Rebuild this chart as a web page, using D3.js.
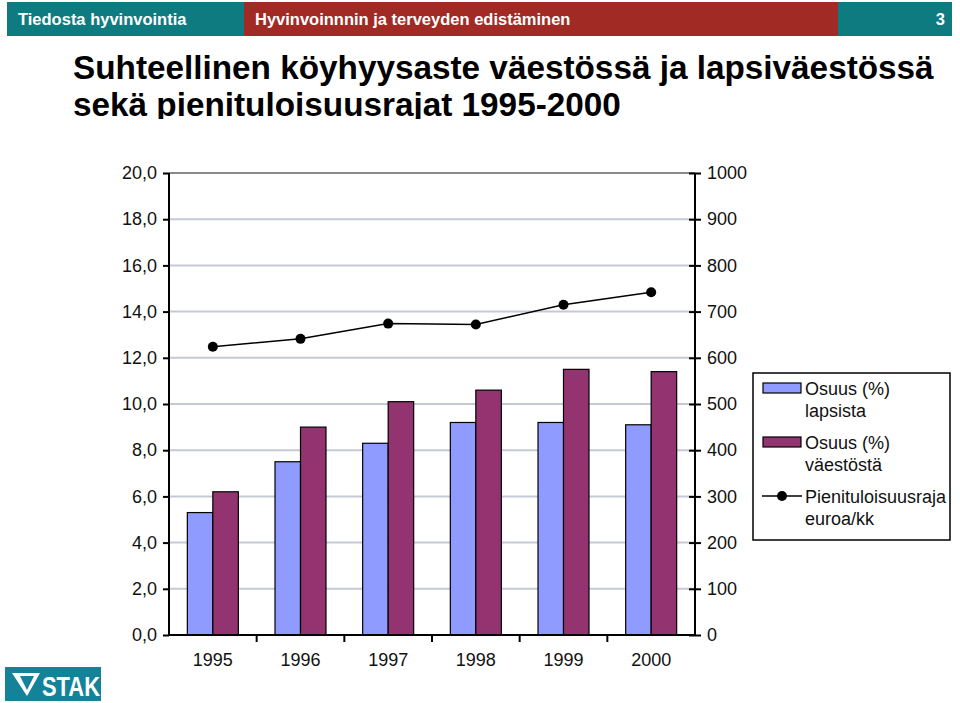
<!DOCTYPE html>
<html><head><meta charset="utf-8">
<script src="https://cdn.jsdelivr.net/npm/d3@7"></script>
<style>body{margin:0;background:#fff}svg{display:block}</style>
</head><body>
<svg id="c" width="960" height="703"></svg>
<script>
const years = ["1995","1996","1997","1998","1999","2000"];
const lapsista = [5.3, 7.5, 8.3, 9.2, 9.2, 9.1];
const vaestosta = [6.2, 9.0, 10.1, 10.6, 11.5, 11.4];
const raja = [624, 641, 674, 672, 715, 742];
const leftTicks = [0,2,4,6,8,10,12,14,16,18,20];
const rightTicks = [0,100,200,300,400,500,600,700,800,900,1000];
const seriesNames = ["Osuus (%)|lapsista","Osuus (%)|väestöstä","Pienituloisuusraja|euroa/kk"];

const svg = d3.select("#c");
const font = "Arial, 'Liberation Sans', sans-serif";

// Header bar
svg.append("rect").attr("x",7).attr("y",2).attr("width",237).attr("height",34).attr("fill","#0e7b80");
svg.append("rect").attr("x",244).attr("y",2).attr("width",594).attr("height",34).attr("fill","#a12b24");
svg.append("rect").attr("x",838).attr("y",2).attr("width",114).attr("height",34).attr("fill","#0e7b80");
svg.append("text").attr("x",18).attr("y",25).attr("fill","#fff").attr("font-family",font).attr("font-weight","bold").attr("font-size",16.5).text("Tiedosta hyvinvointia");
svg.append("text").attr("x",255).attr("y",25).attr("fill","#fff").attr("font-family",font).attr("font-weight","bold").attr("font-size",16.5).text("Hyvinvoinnnin ja terveyden edistäminen");
svg.append("text").attr("x",945).attr("y",25).attr("text-anchor","end").attr("fill","#fff").attr("font-family",font).attr("font-weight","bold").attr("font-size",16.5).text("3");

// Title (second line clipped)
svg.append("defs").append("clipPath").attr("id","tclip").append("rect").attr("x",0).attr("y",40).attr("width",960).attr("height",79);
const tg = svg.append("g").attr("clip-path","url(#tclip)");
tg.append("text").attr("x",73).attr("y",79).attr("font-family",font).attr("font-weight","bold").attr("font-size",33.3).attr("fill","#000").text("Suhteellinen köyhyysaste väestössä ja lapsiväestössä");
tg.append("text").attr("x",73).attr("y",116).attr("font-family",font).attr("font-weight","bold").attr("font-size",33.3).attr("fill","#000").text("sekä pienituloisuusrajat 1995-2000");

// Chart
const x0 = 169, x1 = 695, yTop = 173, yBot = 635;
const x = d3.scaleBand().domain(years).range([x0,x1]).paddingInner(0).paddingOuter(0);
const yL = d3.scaleLinear().domain([0,20]).range([yBot,yTop]);
const yR = d3.scaleLinear().domain([0,1000]).range([yBot,yTop]);

// gridlines
svg.append("g").selectAll("line").data(leftTicks.filter(d=>d>0)).join("line")
  .attr("x1",x0).attr("x2",x1).attr("y1",d=>yL(d)).attr("y2",d=>yL(d))
  .attr("stroke",d=>d===20?"#8a8a8a":"#c3cad6").attr("stroke-width",2);

// bars
const barW = 25.5;
const bars = svg.append("g");
years.forEach((yr,i)=>{
  const cx = x(yr) + x.bandwidth()/2;
  bars.append("rect").attr("x",cx-barW).attr("y",yL(lapsista[i])).attr("width",barW).attr("height",yBot-yL(lapsista[i]))
    .attr("fill","#8f9bff").attr("stroke","#000").attr("stroke-width",1.2);
  bars.append("rect").attr("x",cx).attr("y",yL(vaestosta[i])).attr("width",barW).attr("height",yBot-yL(vaestosta[i]))
    .attr("fill","#933470").attr("stroke","#000").attr("stroke-width",1.2);
});

// axes
const axL = svg.append("g").attr("transform",`translate(${x0},0)`)
  .call(d3.axisLeft(yL).tickValues(leftTicks).tickFormat(d=>d3.format(".1f")(d).replace(".",",")).tickSize(6).tickPadding(6));
const axR = svg.append("g").attr("transform",`translate(${x1},0)`)
  .call(d3.axisRight(yR).tickValues(rightTicks).tickFormat(d3.format("d")).tickSize(6).tickPadding(6));
axR.selectAll(".tick line").attr("x1",-6);
const axB = svg.append("g").attr("transform",`translate(0,${yBot})`)
  .call(d3.axisBottom(x).tickSize(0).tickPadding(18));
[axL,axR,axB].forEach(a=>{
  a.select(".domain").attr("stroke","#000").attr("stroke-width",2);
  a.selectAll(".tick line").attr("stroke","#000").attr("stroke-width",2);
  a.selectAll("text").attr("font-family",font).attr("font-size",18).attr("fill","#111");
});
axL.select(".domain").attr("d",`M0,${yTop}V${yBot}`);
axR.select(".domain").attr("d",`M0,${yTop}V${yBot}`);
axB.select(".domain").attr("d",`M${x0},0H${x1}`);
// category separator ticks on x axis
svg.append("g").selectAll("line").data(years.slice(1)).join("line")
  .attr("x1",d=>x(d)).attr("x2",d=>x(d)).attr("y1",yBot).attr("y2",yBot+7)
  .attr("stroke","#000").attr("stroke-width",2);
axB.selectAll("text").attr("dy","0.71em");

// line
const line = d3.line().x((d,i)=>x(years[i])+x.bandwidth()/2).y(d=>yR(d));
svg.append("path").datum(raja).attr("d",line).attr("fill","none").attr("stroke","#000").attr("stroke-width",1.5);
svg.append("g").selectAll("circle").data(raja).join("circle")
  .attr("cx",(d,i)=>x(years[i])+x.bandwidth()/2).attr("cy",d=>yR(d)).attr("r",5).attr("fill","#000");

// legend
const lg = svg.append("g");
lg.append("rect").attr("x",753).attr("y",373).attr("width",197).attr("height",167).attr("fill","#fff").attr("stroke","#000").attr("stroke-width",1.5);
const legY = [389, 443, 497];
seriesNames.forEach((nm,i)=>{
  const parts = nm.split("|");
  if(i<2){
    lg.append("rect").attr("x",763).attr("y",legY[i]-6).attr("width",38).attr("height",10)
      .attr("fill",i===0?"#8f9bff":"#933470").attr("stroke","#000").attr("stroke-width",1.2);
  } else {
    lg.append("line").attr("x1",762).attr("x2",802).attr("y1",legY[i]-1).attr("y2",legY[i]-1).attr("stroke","#000").attr("stroke-width",1.5);
    lg.append("circle").attr("cx",782).attr("cy",legY[i]-1).attr("r",5).attr("fill","#000");
  }
  parts.forEach((p,j)=>{
    lg.append("text").attr("x",805).attr("y",legY[i]+6+j*22).attr("font-family",font).attr("font-size",18).attr("fill","#111").text(p);
  });
});

// logo
svg.append("rect").attr("x",5).attr("y",667).attr("width",96).attr("height",34).attr("fill","#14839a");
svg.append("path").attr("d","M12,673 L40,673 L27,696 Z M20,676 L27,690 L34,676 Z").attr("fill","#fff").attr("fill-rule","evenodd");
svg.append("text").attr("x",42).attr("y",696).attr("font-family",font).attr("font-weight","bold").attr("font-size",28).attr("fill","#fff").attr("textLength",58).attr("lengthAdjust","spacingAndGlyphs").text("STAK");
</script>
</body></html>
